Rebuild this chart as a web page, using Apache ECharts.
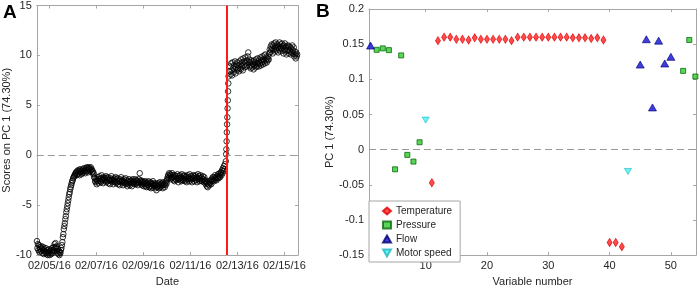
<!DOCTYPE html>
<html>
<head>
<meta charset="utf-8">
<script src="https://cdn.jsdelivr.net/npm/echarts@6/dist/echarts.min.js"></script>
<style>
  html, body { margin: 0; padding: 0; background: #fff; }
  #chart { width: 699px; height: 292px; }
</style>
</head>
<body>
<div id="chart"></div>
<script>
// ---- panel A: scores on PC 1, x in days of Feb 2016 ----
const dateTicks = [5, 7, 9, 11, 13, 15];
const dateLabels = ["02/05/16", "02/07/16", "02/09/16", "02/11/16", "02/13/16", "02/15/16"];

// half-hourly samples up to the step change
const preStartDay = 4.47;
const scoresPre = [
  -8.6, -9.3, -8.9, -9.5, -9.0, -9.7, -9.2, -9.4, -9.6, -9.1, -9.3, -9.8, -9.5, -9.2, -9.9, -9.4, -9.6, -9.8, -9.3, -9.7,
  -9.9, -9.5, -10.0, -9.7, -9.8, -9.4, -10.0, -9.6, -9.5, -9.9, -9.7, -9.3, -9.8, -9.5, -9.2, -9.6, -8.9, -9.3, -8.8, -9.2,
  -9.1, -9.6, -9.8, -9.4, -9.9, -9.6, -10.0, -9.7, -9.8, -9.5, -9.3, -9.0, -8.7, -8.2, -7.9, -7.4, -7.1, -6.8, -6.4, -6.1,
  -5.7, -5.4, -5.1, -4.8, -4.5, -4.2, -3.9, -3.7, -3.4, -3.2, -3.0, -2.8, -2.6, -2.5, -2.3, -2.2, -2.1, -2.0, -1.9, -1.8,
  -1.7, -2.0, -1.6, -1.9, -1.5, -1.8, -1.6, -2.0, -1.4, -1.7, -1.5, -1.9, -1.6, -1.8, -1.4, -1.7, -1.3, -1.6, -1.5, -1.8,
  -1.3, -1.6, -1.2, -1.5, -1.3, -1.7, -1.2, -1.4, -1.3, -1.6, -1.2, -1.5, -1.4, -1.7, -1.6, -1.9, -1.8, -2.2, -2.3, -2.6,
  -2.7, -2.4, -2.9, -2.5, -2.6, -2.2, -2.8, -2.4, -2.1, -2.6, -2.3, -2.7, -2.0, -2.5, -2.3, -2.8, -2.4, -2.2, -2.6, -2.3,
  -2.5, -2.1, -2.7, -2.3, -2.6, -2.2, -2.8, -2.4, -2.5, -2.9, -2.3, -2.6, -2.1, -2.5, -2.7, -2.4, -2.9, -2.5, -2.3, -2.7,
  -2.6, -2.2, -2.8, -2.4, -2.7, -2.3, -2.9, -2.5, -2.6, -3.0, -2.4, -2.7, -2.2, -2.6, -2.8, -2.5, -3.0, -2.6, -2.4, -2.8,
  -2.7, -2.3, -2.9, -2.5, -2.8, -3.1, -2.6, -2.9, -2.4, -2.7, -3.0, -2.6, -2.8, -2.5, -3.1, -2.7, -2.4, -2.8, -2.6, -2.9,
  -2.7, -2.4, -2.9, -2.5, -2.8, -2.6, -3.0, -2.7, -2.4, -2.8, -1.8, -2.6, -2.5, -2.9, -2.7, -3.0, -2.6, -2.8, -3.1, -2.7,
  -2.9, -2.6, -3.1, -2.8, -3.2, -2.7, -2.9, -3.0, -2.6, -3.2, -2.8, -3.1, -2.7, -3.3, -2.9, -2.8, -3.2, -2.6, -3.0, -2.9,
  -3.1, -2.8, -3.3, -3.0, -3.5, -3.2, -2.9, -3.1, -2.8, -3.3, -3.0, -2.7, -3.2, -2.9, -3.1, -2.8, -3.0, -3.3, -2.7, -3.0,
  -2.9, -3.2, -2.8, -3.0, -2.6, -2.8, -2.4, -2.2, -2.0, -2.3, -1.8, -2.1, -1.9, -2.4, -2.0, -2.3, -1.8, -2.2, -2.0, -2.5,
  -2.2, -2.6, -2.0, -2.4, -2.1, -2.5, -2.3, -1.9, -2.4, -2.7, -2.1, -2.3, -2.0, -2.5, -2.2, -2.6, -1.9, -2.3, -2.5, -2.1,
  -2.4, -2.0, -2.6, -2.2, -2.5, -2.1, -2.7, -2.3, -2.0, -2.4, -2.2, -2.6, -1.9, -2.3, -2.5, -2.1, -2.4, -2.7, -2.2, -2.0,
  -2.3, -2.6, -2.1, -2.4, -2.0, -2.5, -2.2, -2.7, -2.3, -1.9, -2.4, -2.1, -2.6, -2.3, -2.0, -2.5, -2.2, -2.6, -2.4, -2.1,
  -2.4, -2.7, -2.2, -2.6, -2.5, -2.9, -2.7, -3.1, -2.8, -3.2, -2.9, -2.6, -3.0, -2.7, -2.8, -2.5, -2.9, -2.4, -2.6, -2.2,
  -2.5, -2.2, -2.6, -2.3, -2.0, -2.4, -2.2, -2.5, -2.1, -2.3, -1.9, -2.3, -2.1, -1.8, -2.2, -1.9, -1.7, -2.0, -1.5, -1.8,
  -1.3, -1.6, -1.1, -1.4, -0.9
];
// quarter-hour samples through the jump
const jumpStartDay = 12.51;
const scoresJump = [-0.6, 0.1, 0.6, 1.4, 2.3, 3.1, 3.8, 4.7, 5.5, 6.4, 7.2, 7.9];
// half-hourly samples after the jump
const postStartDay = 12.67;
const scoresPost = [
  8.4, 8.9, 8.1, 9.2, 8.5, 8.0, 9.3, 8.7, 8.3, 9.0, 8.6, 9.4, 8.2, 8.8, 9.1, 8.5, 9.3, 8.7, 9.0, 8.4,
  9.4, 8.7, 9.1, 8.6, 9.6, 8.9, 9.3, 8.5, 9.7, 9.0, 9.4, 8.8, 9.8, 9.2, 8.9, 9.5, 9.0, 9.9, 10.3, 9.3,
  9.6, 8.9, 9.3, 8.7, 9.5, 9.0, 8.8, 9.4, 9.1, 8.6, 9.5, 9.0, 9.3, 8.8, 9.6, 9.2, 8.9, 9.7, 9.1, 9.4,
  8.9, 9.6, 9.2, 9.8, 9.0, 9.5, 9.3, 9.9, 9.1, 9.6, 9.4, 10.0, 9.2, 10.1, 9.5, 9.8, 9.3, 9.7, 9.5, 9.9,
  9.6, 10.2, 10.6, 10.3, 10.9, 10.5, 11.1, 10.7, 10.2, 11.0, 10.6, 11.2, 10.4, 10.9, 11.3, 10.7, 10.5, 11.1, 10.8, 10.3,
  11.0, 10.6, 11.3, 10.8, 10.4, 11.1, 10.7, 11.2, 10.5, 10.9, 10.2, 11.0, 10.6, 11.2, 10.4, 10.8, 10.1, 10.9, 10.5, 11.0,
  10.6, 10.2, 10.9, 10.4, 10.8, 10.1, 10.7, 10.3, 11.0, 10.5, 10.2, 10.8, 9.9, 10.4, 10.1, 9.7, 10.3, 9.9, 10.1
];
const faultDay = 12.536;

// ---- panel B: PC 1 loadings per variable ----
const varTicks = [10, 20, 30, 40, 50];
const tempVars = [11, 12, 13, 14, 15, 16, 17, 18, 19, 20, 21, 22, 23, 24, 25, 26, 27,
  28, 29, 30, 31, 32, 33, 34, 35, 36, 37, 38, 39, 40, 41, 42];
const tempLoadings = [-0.047, 0.155, 0.160, 0.160, 0.157, 0.157, 0.156, 0.159, 0.157,
  0.157, 0.157, 0.157, 0.157, 0.155, 0.160, 0.160, 0.160, 0.160, 0.160, 0.160, 0.160,
  0.160, 0.160, 0.159, 0.159, 0.159, 0.158, 0.159, 0.156, -0.132, -0.132, -0.138];
const pressureVars = [2, 3, 4, 5, 6, 7, 8, 9, 52, 53, 54];
const pressureLoadings = [0.142, 0.144, 0.1415, -0.028, 0.134, -0.0075, -0.017, 0.0105, 0.112, 0.156, 0.104];
const flowVars = [1, 45, 46, 47, 48, 49, 50];
const flowLoadings = [0.148, 0.121, 0.157, 0.060, 0.155, 0.1225, 0.132];
const motorVars = [10, 43];
const motorLoadings = [0.042, -0.031];

const FONT = "Liberation Sans";
const AXIS = "#a6a6a6";
const TEXT = "#262626";

function series(startDay, stepHours, values) {
  return values.map((v, i) => [startDay + (i * stepHours) / 24, v]);
}
function pairs(xs, ys) {
  return xs.map((x, i) => [x, ys[i]]);
}
function tickLabel(ticks, labels) {
  return (v) => {
    const k = ticks.findIndex((t) => Math.abs(t - v) < 1e-6);
    return k >= 0 ? labels[k] : "";
  };
}

// one side of the box around a plot; only bottom/left carry labels
function boxAxis(gridIndex, position, range, ticks, opts) {
  const labelled = position === "bottom" || position === "left";
  const axis = {
    gridIndex: gridIndex,
    type: "value",
    position: position,
    min: range[0],
    max: range[1],
    axisLine: { onZero: false, lineStyle: { color: AXIS, width: 1 } },
    axisTick: { inside: true, length: 3, lineStyle: { color: AXIS } },
    axisLabel: {
      show: labelled,
      color: TEXT,
      fontSize: 11,
      fontFamily: FONT,
      margin: 5,
    },
    splitLine: { show: false },
  };
  if (ticks.custom) {
    axis.axisTick.customValues = ticks.custom;
    axis.axisLabel.customValues = ticks.custom;
    if (ticks.labels) axis.axisLabel.formatter = tickLabel(ticks.custom, ticks.labels);
  } else {
    axis.interval = ticks.interval;
  }
  if (labelled && opts) Object.assign(axis, opts);
  return axis;
}

const nameStyle = { color: TEXT, fontSize: 11, fontFamily: FONT };
const zeroLine = { yAxis: 0, lineStyle: { color: "#999", type: [7, 4], width: 1 } };

const myChart = echarts.init(document.getElementById("chart"), null, { renderer: "canvas" });
const option = {
  animation: false,
  backgroundColor: "#fff",
  grid: [
    { left: 35, top: 5, width: 263, height: 255 },
    { left: 369, top: 9, width: 327, height: 253 },
  ],
  xAxis: [
    boxAxis(0, "bottom", [4.464, 15.58], { custom: dateTicks, labels: dateLabels }, {
      name: "Date", nameLocation: "middle", nameGap: 17, nameTextStyle: nameStyle,
    }),
    boxAxis(0, "top", [4.464, 15.58], { custom: dateTicks }),
    boxAxis(1, "bottom", [0.75, 54.1], { custom: varTicks }, {
      name: "Variable number", nameLocation: "middle", nameGap: 17, nameTextStyle: nameStyle,
    }),
    boxAxis(1, "top", [0.75, 54.1], { custom: varTicks }),
  ],
  yAxis: [
    boxAxis(0, "left", [-10, 15], { interval: 5 }, {
      name: "Scores on PC 1 (74.30%)", nameLocation: "middle", nameGap: 21, nameTextStyle: nameStyle,
    }),
    boxAxis(0, "right", [-10, 15], { interval: 5 }),
    boxAxis(1, "left", [-0.15, 0.2], { interval: 0.05 }, {
      name: "PC 1 (74.30%)", nameLocation: "middle", nameGap: 31, nameTextStyle: nameStyle,
    }),
    boxAxis(1, "right", [-0.15, 0.2], { interval: 0.05 }),
  ],
  legend: {
    data: [
      "Temperature",
      "Pressure",
      "Flow",
      { name: "Motor speed", icon: "path://M0,0 L10,0 L5,9 Z" },
    ],
    orient: "vertical",
    left: 369,
    top: 201,
    padding: [5, 8, 4, 13],
    itemWidth: 8,
    itemHeight: 7,
    itemGap: 4,
    selectedMode: false,
    backgroundColor: "#fff",
    borderColor: AXIS,
    borderWidth: 1,
    borderRadius: 0,
    textStyle: { color: TEXT, fontSize: 10, fontFamily: FONT },
  },
  graphic: [
    { type: "text", left: 3, top: 3, style: { text: "A", font: "bold 19px " + FONT, fill: "#000" } },
    { type: "text", left: 316, top: 2, style: { text: "B", font: "bold 19px " + FONT, fill: "#000" } },
  ],
  series: [
    {
      name: "scores",
      type: "scatter",
      xAxisIndex: 0,
      yAxisIndex: 0,
      symbol: "circle",
      symbolSize: 5.5,
      // hollow markers, like MATLAB 'o'
      itemStyle: { color: "rgba(0,0,0,0)", borderColor: "#000", borderWidth: 1 },
      data: series(preStartDay, 0.5, scoresPre)
        .concat(series(jumpStartDay, 0.25, scoresJump))
        .concat(series(postStartDay, 0.5, scoresPost)),
      markLine: {
        silent: true,
        symbol: ["none", "none"],
        label: { show: false },
        data: [
          zeroLine,
          { xAxis: faultDay, lineStyle: { color: "#ff1a1a", type: "solid", width: 2 } },
        ],
      },
    },
    {
      name: "Temperature",
      type: "scatter",
      xAxisIndex: 2,
      yAxisIndex: 2,
      symbol: "diamond",
      symbolSize: [5, 8],
      itemStyle: { color: "#ff1f1f", borderColor: "#e00000", borderWidth: 0.8 },
      data: pairs(tempVars, tempLoadings),
      markLine: {
        silent: true,
        symbol: ["none", "none"],
        label: { show: false },
        data: [zeroLine],
      },
    },
    {
      name: "Pressure",
      type: "scatter",
      xAxisIndex: 2,
      yAxisIndex: 2,
      symbol: "rect",
      symbolSize: 5,
      itemStyle: { color: "#2fcc2f", borderColor: "#0a6a0a", borderWidth: 1 },
      data: pairs(pressureVars, pressureLoadings),
    },
    {
      name: "Flow",
      type: "scatter",
      xAxisIndex: 2,
      yAxisIndex: 2,
      symbol: "triangle",
      symbolSize: [8, 7],
      itemStyle: { color: "#0c0cd8", borderColor: "#00006e", borderWidth: 0.8 },
      data: pairs(flowVars, flowLoadings),
    },
    {
      name: "Motor speed",
      type: "scatter",
      xAxisIndex: 2,
      yAxisIndex: 2,
      symbol: "triangle",
      symbolRotate: 180,
      symbolSize: [7, 6],
      itemStyle: { color: "#44f2f2", borderColor: "#1cb8c0", borderWidth: 0.8 },
      data: pairs(motorVars, motorLoadings),
    },
  ],
};
myChart.setOption(option);
</script>
</body>
</html>
